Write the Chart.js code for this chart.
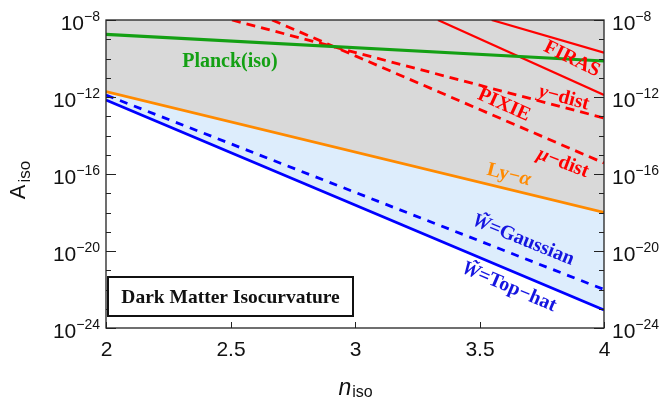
<!DOCTYPE html>
<html>
<head>
<meta charset="utf-8">
<script src="https://cdn.jsdelivr.net/npm/chart.js@4.4.0/dist/chart.umd.min.js"></script>
<style>
body { margin:0; background:#fff; }
#wrap { width:665px; height:401px; position:relative; }
</style>
</head>
<body>
<div id="wrap"><canvas id="myChart"></canvas></div>
<script>
// bounds on A_iso, straight lines in log space (endpoints)
var nRange = [2, 4];
var planckIso = [1.8e-9, 7.4e-11];
var lyAlpha = [1.9e-12, 1.0e-18];
var wGaussian = [1.26e-12, 1.0e-22];
var wTopHat = [6.9e-13, 8.7e-24];

// FIRAS and PIXIE come in from the top edge
var firasUpperN = [3.549, 4];
var firasUpperA = [1e-8, 2.0e-10];
var firasLowerN = [3.333, 4];
var firasLowerA = [1e-8, 1.26e-12];
var pixieYN = [2.506, 4];
var pixieYA = [1e-8, 8.1e-14];
var pixieMuN = [2.667, 4];
var pixieMuA = [1e-8, 3.7e-16];

var xTicks = [2, 2.5, 3, 3.5, 4];
var xTickLabels = ["2", "2.5", "3", "3.5", "4"];
var yMajorExp = [-8, -12, -16, -20, -24];

var GREEN = '#14a014', RED = '#ff0000', ORANGE = '#ff8a00', BLUE = '#0000ff';

// curve labels (placed in data coordinates)
var curveLabels = [
    { parts: [{t: "Planck(iso)"}], n: 2.498, A: 6.6e-11, angle: 0, color: GREEN },
    { parts: [{t: "FIRAS"}], n: 3.871, A: 9.3e-11, angle: 26, color: RED },
    { parts: [{t: "y", it: true}, {t: "\u2212dist"}], n: 3.839, A: 8.9e-13, angle: 15, color: RED },
    { parts: [{t: "PIXIE"}], n: 3.598, A: 3.8e-13, angle: 24, color: RED },
    { parts: [{t: "\u03bc", it: true}, {t: "\u2212dist"}], n: 3.835, A: 3.7e-16, angle: 21, color: RED },
    { parts: [{t: "Ly\u2212"}, {t: "\u03b1", it: true}], n: 3.618, A: 8.9e-17, angle: 14, color: ORANGE },
    { parts: [{t: "W\u0303", it: true}, {t: "=Gaussian"}], n: 3.675, A: 3.7e-20, angle: 22, color: '#1515e0' },
    { parts: [{t: "W\u0303", it: true}, {t: "=Top\u2212hat"}], n: 3.618, A: 1.35e-22, angle: 23, color: '#1515e0' }
];

function pts(xs, ys) {
    var out = [];
    for (var i = 0; i < xs.length; i++) out.push({x: xs[i], y: ys[i]});
    return out;
}

function line(ctx, x1, y1, x2, y2) {
    ctx.beginPath(); ctx.moveTo(x1, y1); ctx.lineTo(x2, y2); ctx.stroke();
}

// "10" with a superscript exponent
function drawPow(ctx, x, y, e, align) {
    var base = "10", sup = "\u2212" + Math.abs(e);
    ctx.font = '21px "Liberation Sans"';
    var wb = ctx.measureText(base).width;
    ctx.font = '14px "Liberation Sans"';
    var ws = ctx.measureText(sup).width;
    var x0 = align == 'right' ? x - wb - ws : x;
    ctx.textAlign = 'left';
    ctx.textBaseline = 'alphabetic';
    ctx.font = '21px "Liberation Sans"';
    ctx.fillText(base, x0, y + 10);
    ctx.font = '14px "Liberation Sans"';
    ctx.fillText(sup, x0 + wb, y + 0.5);
}

function drawParts(ctx, parts, size) {
    var w = 0, widths = [];
    parts.forEach(function(p) {
        ctx.font = (p.it ? 'italic ' : '') + 'bold ' + size + 'px "Liberation Serif"';
        var pw = ctx.measureText(p.t).width;
        widths.push(pw); w += pw;
    });
    var x = -w / 2;
    parts.forEach(function(p, i) {
        ctx.font = (p.it ? 'italic ' : '') + 'bold ' + size + 'px "Liberation Serif"';
        ctx.fillText(p.t, x, 0);
        x += widths[i];
    });
}

var framePlugin = {
    id: 'framePlugin',
    afterDatasetsDraw: function(chart) {
        var ctx = chart.ctx, a = chart.chartArea;
        var xs = chart.scales.x, ys = chart.scales.y;
        ctx.save();
        ctx.strokeStyle = '#222';
        ctx.lineWidth = 1.3;
        ctx.strokeRect(a.left, a.top, a.right - a.left, a.bottom - a.top);
        ctx.lineWidth = 1;
        for (var e = -24; e <= -8; e++) {
            var y = Math.round(ys.getPixelForValue(Math.pow(10, e))) + 0.5;
            var len = yMajorExp.indexOf(e) >= 0 ? 10 : 5;
            line(ctx, a.left, y, a.left + len, y);
            line(ctx, a.right, y, a.right - len, y);
        }
        xTicks.forEach(function(v) {
            var x = Math.round(xs.getPixelForValue(v)) + 0.5;
            line(ctx, x, a.bottom, x, a.bottom - 6);
        });

        // curve labels
        curveLabels.forEach(function(l) {
            ctx.save();
            ctx.translate(xs.getPixelForValue(l.n), ys.getPixelForValue(l.A));
            ctx.rotate(l.angle * Math.PI / 180);
            ctx.fillStyle = l.color;
            ctx.textAlign = 'left';
            ctx.textBaseline = 'middle';
            drawParts(ctx, l.parts, 20);
            ctx.restore();
        });

        // inset box
        var bx = a.left + 2, bw = 245, bh = 39, by = a.bottom - 51;
        ctx.fillStyle = '#fff';
        ctx.fillRect(bx, by, bw, bh);
        ctx.strokeStyle = '#111';
        ctx.lineWidth = 2;
        ctx.strokeRect(bx, by, bw, bh);
        ctx.fillStyle = '#111';
        ctx.textAlign = 'center';
        ctx.textBaseline = 'middle';
        ctx.font = 'bold 19.5px "Liberation Serif"';
        ctx.fillText("Dark Matter Isocurvature", bx + bw / 2, by + bh / 2 + 1);
        ctx.restore();
    },
    afterDraw: function(chart) {
        var ctx = chart.ctx, a = chart.chartArea;
        var xs = chart.scales.x, ys = chart.scales.y;
        ctx.save();
        ctx.fillStyle = '#111';
        yMajorExp.forEach(function(e) {
            var y = ys.getPixelForValue(Math.pow(10, e));
            drawPow(ctx, a.left - 6, y, e, 'right');
            drawPow(ctx, a.right + 8, y, e, 'left');
        });
        ctx.font = '21px "Liberation Sans"';
        ctx.textAlign = 'center';
        ctx.textBaseline = 'alphabetic';
        xTicks.forEach(function(v, i) {
            ctx.fillText(xTickLabels[i], xs.getPixelForValue(v) + 0.5, a.bottom + 28);
        });

        // x title n_iso
        ctx.textAlign = 'left';
        ctx.font = 'italic 23px "Liberation Sans"';
        var wn = ctx.measureText("n").width;
        ctx.font = '16px "Liberation Sans"';
        var wi = ctx.measureText("iso").width;
        var cx = (a.left + a.right) / 2 - (wn + wi) / 2;
        ctx.font = 'italic 23px "Liberation Sans"';
        ctx.fillText("n", cx, a.bottom + 67);
        ctx.font = '16px "Liberation Sans"';
        ctx.fillText("iso", cx + wn + 1, a.bottom + 69);

        // y title A_iso
        ctx.translate(25, 180);
        ctx.rotate(-Math.PI / 2);
        ctx.font = '22px "Liberation Sans"';
        var wa = ctx.measureText("A").width;
        ctx.font = '17px "Liberation Sans"';
        var wi2 = ctx.measureText("iso").width;
        var sx = -(wa + wi2 + 2) / 2;
        ctx.font = '22px "Liberation Sans"';
        ctx.fillText("A", sx, 0);
        ctx.font = '17px "Liberation Sans"';
        ctx.fillText("iso", sx + wa + 2, 5);
        ctx.restore();
    }
};

var ctx = document.getElementById("myChart");
var myChart = new Chart(ctx, {
    type: 'line',
    data: {
        datasets: [
            { data: pts(nRange, planckIso), borderColor: GREEN, borderWidth: 3.2, fill: false },
            { data: pts(nRange, lyAlpha), borderColor: ORANGE, borderWidth: 2.8,
              fill: 'end', backgroundColor: '#d9d9d9' },
            { data: pts(nRange, wGaussian), borderColor: BLUE, borderWidth: 2.8,
              borderDash: [8, 7], fill: false },
            { data: pts(nRange, wTopHat), borderColor: BLUE, borderWidth: 2.8,
              fill: {target: 1}, backgroundColor: '#ddedfc' },
            { data: pts(firasUpperN, firasUpperA), borderColor: RED, borderWidth: 2.2, fill: false },
            { data: pts(firasLowerN, firasLowerA), borderColor: RED, borderWidth: 2.2, fill: false },
            { data: pts(pixieYN, pixieYA), borderColor: RED, borderWidth: 2.8,
              borderDash: [9, 6], fill: false },
            { data: pts(pixieMuN, pixieMuA), borderColor: RED, borderWidth: 2.8,
              borderDash: [9, 6], fill: false }
        ]
    },
    options: {
        responsive: true,
        maintainAspectRatio: false,
        animation: false,
        elements: { point: { radius: 0 }, line: { tension: 0 } },
        layout: { padding: { left: 106, right: 61, top: 20, bottom: 73 } },
        scales: {
            x: { type: 'linear', min: 2, max: 4, display: false },
            y: { type: 'logarithmic', min: 1e-24, max: 1e-8, display: false }
        },
        plugins: {
            legend: { display: false },
            tooltip: { enabled: false },
            filler: { drawTime: 'beforeDatasetsDraw' }
        }
    },
    plugins: [framePlugin]
});
</script>
</body>
</html>
